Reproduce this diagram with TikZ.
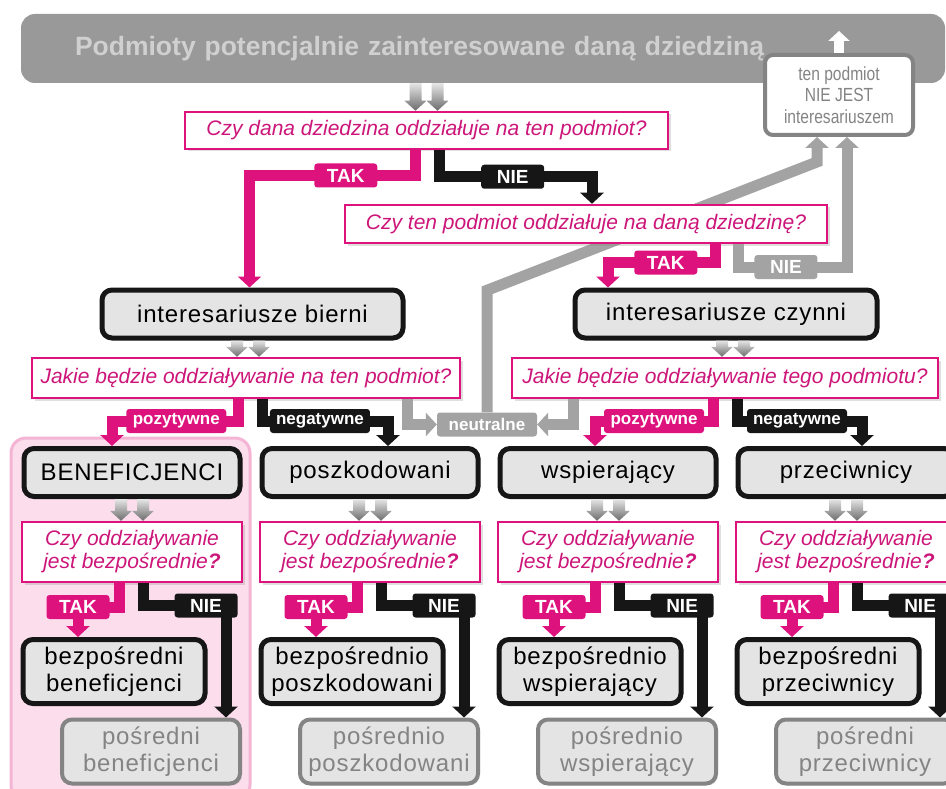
\documentclass[tikz,border=0pt]{standalone}
\usepackage{fontspec}
\setmainfont{Liberation Sans}
\newfontfamily\stakefont[LetterSpace=3.5]{Liberation Sans}
\newfontfamily\notstakefont[FakeStretch=0.82]{Liberation Sans}
\usetikzlibrary{arrows.meta, calc, shadows}
\pgfdeclarelayer{background}
\pgfsetlayers{background,main}

\definecolor{mag}{RGB}{222,18,125}
\definecolor{magtext}{RGB}{205,22,122}
\definecolor{midgray}{RGB}{163,163,163}
\definecolor{bargray}{RGB}{153,153,153}
\definecolor{bartext}{RGB}{208,208,208}
\definecolor{boxfill}{RGB}{228,228,228}
\definecolor{dimtext}{RGB}{132,132,132}
\definecolor{pinkfill}{RGB}{251,221,236}
\definecolor{pinkline}{RGB}{244,180,212}
\definecolor{darkline}{RGB}{22,22,22}

\tikzstyle{titlebar} = [rectangle, rounded corners=14pt, fill=bargray, text=bartext, font=\bfseries\fontsize{26.5}{30}\selectfont, text width=816pt, align=left, inner xsep=54pt, minimum height=69pt]
\tikzstyle{notbox} = [rectangle, rounded corners=8pt, draw=dimtext, line width=4pt, fill=white, text=dimtext, font=\notstakefont\fontsize{19}{21.5}\selectfont, align=center, inner sep=0pt, minimum width=148pt, minimum height=80pt]
\tikzstyle{question} = [rectangle, draw=mag, line width=2.5pt, fill=white, text=magtext, font=\itshape\fontsize{21}{23}\selectfont, align=center, inner sep=0pt, drop shadow={opacity=.25, shadow xshift=2.5pt, shadow yshift=-2.5pt}]
\tikzstyle{smallq} = [question, minimum width=220pt, minimum height=60pt]
\tikzstyle{stakebox} = [rectangle, rounded corners=10pt, draw=darkline, line width=5pt, fill=boxfill, text=black, font=\stakefont\fontsize{24}{27}\selectfont, align=center, inner sep=0pt, minimum height=48pt, drop shadow={opacity=.2, shadow xshift=2pt, shadow yshift=-2pt}]
\tikzstyle{pair} = [stakebox, minimum width=182pt, minimum height=64pt]
\tikzstyle{indirect} = [pair, draw=dimtext, line width=4pt, text=dimtext, minimum width=178pt]
\tikzstyle{tag} = [rectangle, rounded corners=3pt, fill=mag, text=white, font=\bfseries\fontsize{19}{19}\selectfont, minimum width=63pt, minimum height=24pt, inner sep=0pt]
\tikzstyle{tagno} = [tag, fill=darkline]
\tikzstyle{taggray} = [tag, fill=midgray]
\tikzstyle{kind} = [tag, font=\bfseries\fontsize{17}{17}\selectfont, minimum width=100pt, minimum height=24pt]
\tikzstyle{kindno} = [kind, fill=darkline]
\tikzstyle{magarrow} = [draw=mag, line width=11pt, -{Triangle[width=23pt,length=11pt]}]
\tikzstyle{blackarrow} = [magarrow, draw=darkline]
\tikzstyle{grayarrow} = [magarrow, draw=midgray]
\tikzstyle{whitearrow} = [draw=white, line width=10pt, -{Triangle[width=21pt,length=10pt]}]
\tikzstyle{feed} = [top color=black!10, bottom color=black!58]
\tikzstyle{panel} = [rounded corners=15pt, fill=pinkfill, draw=pinkline, line width=3pt]

\newcommand{\feedarrow}[3]{\path[feed] ($(#1.south -| #2.north)+(#3-6,0)$) -- ($(#1.south -| #2.north)+(#3+6,0)$) -- ($(#2.north)+(#3+6,-10)$) -- ($(#2.north)+(#3+11,-10)$) -- ($(#2.north)+(#3,0)$) -- ($(#2.north)+(#3-11,-10)$) -- ($(#2.north)+(#3-6,-10)$) -- cycle;}
\newcommand{\twinfeed}[3]{\feedarrow{#1}{#2}{#3-11}\feedarrow{#1}{#2}{#3+11}}

\begin{document}
\begin{tikzpicture}[x=1pt, y=-1pt]
    \useasboundingbox (0,0) rectangle (946,789);
    \clip (0,0) rectangle (946,789);

    \node[titlebar] (bar) at (483,48.5) {Podmioty potencjalnie zainteresowane daną dziedziną};
    \node[notbox] (notstake) at (839,95) {ten podmiot\\NIE JEST\\interesariuszem};
    \node[question, minimum width=483pt, minimum height=37pt] (q1) at (426.5,130.5) {Czy dana dziedzina oddziałuje na ten podmiot?};
    \node[question, minimum width=482pt, minimum height=38pt] (q2) at (586,224) {Czy ten podmiot oddziałuje na daną dziedzinę?};
    \node[stakebox, minimum width=301pt] (bierni) at (252.5,314) {interesariusze bierni};
    \node[stakebox, minimum width=302pt] (czynni) at (726,314) {interesariusze czynni};
    \node[question, minimum width=428pt, minimum height=40pt] (q3) at (246,378) {Jakie będzie oddziaływanie na ten podmiot?};
    \node[question, minimum width=426pt, minimum height=40pt] (q4) at (725,378) {Jakie będzie oddziaływanie tego podmiotu?};
    \node[kind, fill=midgray] (neutral) at (487,424.5) {neutralne};

    \node[stakebox, minimum width=216pt] (benef) at (132,472.5) {BENEFICJENCI};
    \node[stakebox, minimum width=216pt] (posz) at (370,472.5) {poszkodowani};
    \node[stakebox, minimum width=216pt] (wsp) at (608,472.5) {wspierający};
    \node[stakebox, minimum width=216pt] (przec) at (846,472.5) {przeciwnicy};

    \node[smallq] (qbenef) at (132,552) {Czy oddziaływanie\\jest bezpośrednie\textbf{?}};
    \node[smallq] (qposz) at (370,552) {Czy oddziaływanie\\jest bezpośrednie\textbf{?}};
    \node[smallq] (qwsp) at (608,552) {Czy oddziaływanie\\jest bezpośrednie\textbf{?}};
    \node[smallq] (qprzec) at (846,552) {Czy oddziaływanie\\jest bezpośrednie\textbf{?}};

    \node[pair] (dirbenef) at (114,671.5) {bezpośredni\\beneficjenci};
    \node[pair] (dirposz) at (352,671.5) {bezpośrednio\\poszkodowani};
    \node[pair] (dirwsp) at (590,671.5) {bezpośrednio\\wspierający};
    \node[pair] (dirprzec) at (828,671.5) {bezpośredni\\przeciwnicy};

    \node[indirect] (indbenef) at (151,751.5) {pośredni\\beneficjenci};
    \node[indirect] (indposz) at (389,751.5) {pośrednio\\poszkodowani};
    \node[indirect] (indwsp) at (627,751.5) {pośrednio\\wspierający};
    \node[indirect] (indprzec) at (865,751.5) {pośredni\\przeciwnicy};

    \begin{pgfonlayer}{background}
        \draw[panel] (11,438) rectangle (250,800);
        \draw[grayarrow] (neutral.north) -- ++(0,-122) -- ($(notstake.south)+(-22,25)$) -- ($(notstake.south)+(-22,0)$);
    \end{pgfonlayer}

    \twinfeed{bar}{q1}{0}
    \twinfeed{bierni}{q3}{2}
    \twinfeed{czynni}{q4}{8}
    \twinfeed{benef}{qbenef}{0}
    \twinfeed{posz}{qposz}{0}
    \twinfeed{wsp}{qwsp}{0}
    \twinfeed{przec}{qprzec}{0}

    \draw[whitearrow] (notstake.north) -- ++(0,-22);

    \draw[magarrow] ($(q1.south)+(-11,0)$) |- node[tag, pos=.71] {TAK} ($(bierni.north)+(-3,-112)$) -- ($(bierni.north)+(-3,0)$);
    \draw[blackarrow] ($(q1.south)+(13,0)$) |- node[tagno, pos=.74] {NIE} ($(q2.north)+(6,-27)$) -- ($(q2.north)+(6,0)$);
    \draw[magarrow] ($(q2.south)+(129,0)$) |- node[tag, pos=.73] {TAK} ($(czynni.north)+(-118,-25)$) -- ($(czynni.north)+(-118,0)$);
    \draw[grayarrow] ($(q2.south)+(152,0)$) |- node[taggray, pos=.72] {NIE} ($(notstake.south)+(8,130)$) -- ($(notstake.south)+(8,0)$);

    \draw[magarrow] ($(q3.south)+(-8,0)$) |- node[kind, pos=.745] {pozytywne} ($(benef.north)+(-20,-25)$) -- ($(benef.north)+(-20,0)$);
    \draw[blackarrow] ($(q3.south)+(16,0)$) |- node[kindno, pos=.73] {negatywne} ($(posz.north)+(18,-25)$) -- ($(posz.north)+(18,0)$);
    \draw[grayarrow] ($(q3.south)+(161,0)$) |- (neutral.west);
    \draw[grayarrow] ($(q4.south)+(-152,0)$) |- (neutral.east);
    \draw[magarrow] ($(q4.south)+(-12,0)$) |- node[kind, pos=.75] {pozytywne} ($(wsp.north)+(-13,-25)$) -- ($(wsp.north)+(-13,0)$);
    \draw[blackarrow] ($(q4.south)+(12,0)$) |- node[kindno, pos=.74] {negatywne} ($(przec.north)+(16,-25)$) -- ($(przec.north)+(16,0)$);

    \draw[magarrow] ($(qbenef.south)+(-13,0)$) |- node[tag, pos=1] {TAK} ($(dirbenef.north)+(-36,-30)$) -- ($(dirbenef.north)+(-36,0)$);
    \draw[blackarrow] ($(qbenef.south)+(11,0)$) |- node[tagno, pos=.88] {NIE} ($(indbenef.north)+(75,-112)$) -- ($(indbenef.north)+(75,0)$);
    \draw[magarrow] ($(qposz.south)+(-13,0)$) |- node[tag, pos=1] {TAK} ($(dirposz.north)+(-36,-30)$) -- ($(dirposz.north)+(-36,0)$);
    \draw[blackarrow] ($(qposz.south)+(11,0)$) |- node[tagno, pos=.88] {NIE} ($(indposz.north)+(75,-112)$) -- ($(indposz.north)+(75,0)$);
    \draw[magarrow] ($(qwsp.south)+(-13,0)$) |- node[tag, pos=1] {TAK} ($(dirwsp.north)+(-36,-30)$) -- ($(dirwsp.north)+(-36,0)$);
    \draw[blackarrow] ($(qwsp.south)+(11,0)$) |- node[tagno, pos=.88] {NIE} ($(indwsp.north)+(75,-112)$) -- ($(indwsp.north)+(75,0)$);
    \draw[magarrow] ($(qprzec.south)+(-13,0)$) |- node[tag, pos=1] {TAK} ($(dirprzec.north)+(-36,-30)$) -- ($(dirprzec.north)+(-36,0)$);
    \draw[blackarrow] ($(qprzec.south)+(11,0)$) |- node[tagno, pos=.88] {NIE} ($(indprzec.north)+(75,-112)$) -- ($(indprzec.north)+(75,0)$);
\end{tikzpicture}
\end{document}
